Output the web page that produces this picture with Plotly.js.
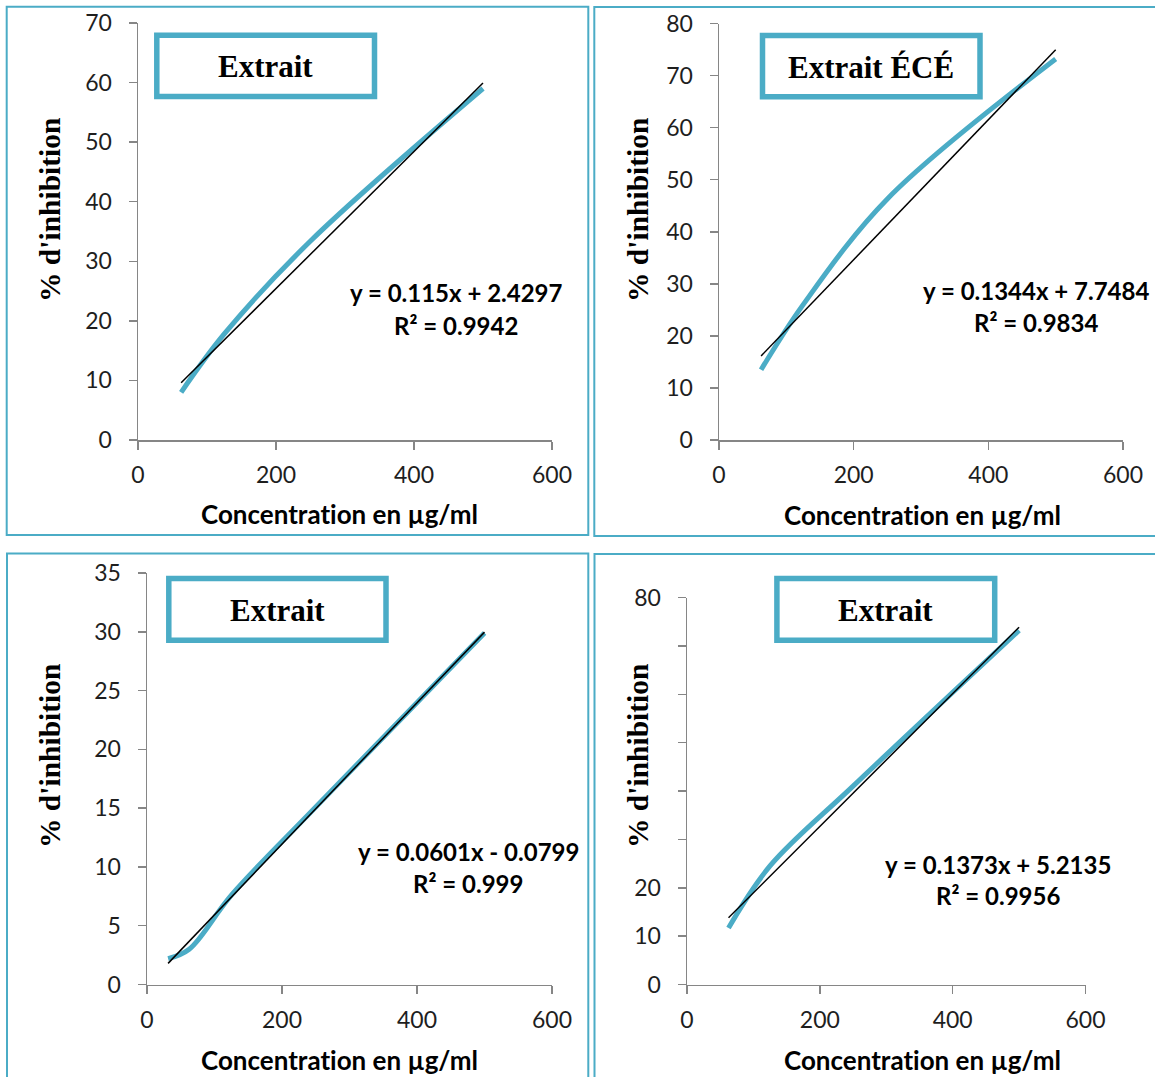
<!DOCTYPE html>
<html>
<head>
<meta charset="utf-8">
<script src="https://cdn.plot.ly/plotly-3.0.1.min.js"></script>
<style>html,body{margin:0;padding:0;background:#fff;}#chart{width:1155px;height:1077px;}
text{font-variant-ligatures:none;font-feature-settings:"liga" 0,"clig" 0;}</style>
</head>
<body>
<div id="chart"></div>
<script>
// ---- Data ----
const conc1 = [62.5, 125, 250, 500];
const inhib1 = [8.0, 17.8, 33.4, 59.0];
const conc2 = [62.5, 125, 250, 500];
const inhib2 = [13.5, 26.0, 46.3, 73.2];
const conc3 = [31.25, 62.5, 125, 250, 500];
const inhib3 = [2.2, 3.0, 7.6, 15.1, 29.9];
const conc4 = [62.5, 125, 250, 500];
const inhib4 = [11.7, 24.5, 41.0, 73.2];

const slopes = [0.115, 0.1344, 0.0601, 0.1373];
const intercepts = [2.4297, 7.7484, -0.0799, 5.2135];
const equations = ["y = 0.115x + 2.4297", "y = 0.1344x + 7.7484", "y = 0.0601x - 0.0799", "y = 0.1373x + 5.2135"];
const r2Labels = ["R² = 0.9942", "R² = 0.9834", "R² = 0.999", "R² = 0.9956"];
const boxLabels = ["Extrait", "Extrait ÉCÉ", "Extrait", "Extrait"];
const xTitle = "Concentration en µg/ml";
const yTitle = "% d'inhibition";
const xTicks = [0, 200, 400, 600];
const yTicks1 = [0, 10, 20, 30, 40, 50, 60, 70];
const yTicks2 = [0, 10, 20, 30, 40, 50, 60, 70, 80];
const yTicks3 = [0, 5, 10, 15, 20, 25, 30, 35];
const yTicks4 = [0, 10, 20, 30, 40, 50, 60, 70, 80];
const yTickText4 = ["0", "10", "20", "", "", "", "", "", "80"];

// ---- Layout helpers ----
const W = 1155, H = 1077;
const px = x => x / W;
const py = y => 1 - y / H;
const TEAL = '#4BACC6';
const AXC = '#868686';

const concs = [conc1, conc2, conc3, conc4];
const inhibs = [inhib1, inhib2, inhib3, inhib4];

const traces = [];
for (let i = 0; i < 4; i++) {
  const sfx = i === 0 ? '' : String(i + 1);
  traces.push({
    x: concs[i], y: inhibs[i], type: 'scatter', mode: 'lines',
    line: {color: TEAL, width: 5, shape: 'spline', smoothing: 1},
    xaxis: 'x' + sfx, yaxis: 'y' + sfx, hoverinfo: 'skip', showlegend: false
  });
  const xmin = Math.min(...concs[i]), xmax = Math.max(...concs[i]);
  const tx = [xmin, xmax];
  traces.push({
    x: tx, y: tx.map(v => slopes[i] * v + intercepts[i]), type: 'scatter', mode: 'lines',
    line: {color: '#000000', width: 1.5},
    xaxis: 'x' + sfx, yaxis: 'y' + sfx, hoverinfo: 'skip', showlegend: false
  });
}

const tickFont = {family: 'Lato, "Open Sans", sans-serif', size: 23, color: '#1e1e1e'};
function xax(domain, anchor) {
  return {domain: domain, anchor: anchor, range: [0, 600], tickvals: xTicks, ticktext: xTicks.map(String),
    ticks: 'outside', ticklen: 8, tickwidth: 1.5, tickcolor: AXC, showline: true, linecolor: AXC, linewidth: 1.5,
    showgrid: false, zeroline: false, tickfont: tickFont, ticklabelstandoff: 6, fixedrange: true};
}
function yax(domain, anchor, range, vals, text) {
  return {domain: domain, anchor: anchor, range: range, tickvals: vals, ticktext: text || vals.map(String),
    ticks: 'outside', ticklen: 8, tickwidth: 1.5, tickcolor: AXC, showline: true, linecolor: AXC, linewidth: 1.5,
    showgrid: false, zeroline: false, tickfont: tickFont, ticklabelstandoff: 12, fixedrange: true};
}

const layout = {
  width: W, height: H, margin: {l: 0, r: 0, t: 0, b: 0},
  paper_bgcolor: '#ffffff', plot_bgcolor: 'rgba(0,0,0,0)', showlegend: false,
  xaxis: xax([px(138), px(552)], 'y'),
  yaxis: yax([py(440), py(23)], 'x', [0, 70], yTicks1),
  xaxis2: xax([px(719), px(1123)], 'y2'),
  yaxis2: yax([py(440), py(23.5)], 'x2', [0, 80], yTicks2),
  xaxis3: xax([px(147), px(552)], 'y3'),
  yaxis3: yax([py(984.5), py(573)], 'x3', [0, 35], yTicks3),
  xaxis4: xax([px(687), px(1085.5)], 'y4'),
  yaxis4: yax([py(984.5), py(597.5)], 'x4', [0, 80], yTicks4, yTickText4),
  shapes: [],
  annotations: []
};

// panel frames
const frames = [[6.7, 6.7, 588.3, 535], [594.3, 7, 1170, 536], [7, 553.5, 588.3, 1090], [594.5, 554, 1170, 1090]];
frames.forEach(f => layout.shapes.push({type: 'rect', xref: 'paper', yref: 'paper', x0: px(f[0]), x1: px(f[2]), y0: py(f[3]), y1: py(f[1]),
  line: {color: TEAL, width: 2}, fillcolor: 'rgba(0,0,0,0)', layer: 'below'}));

// label boxes
const boxes = [[156.8, 35.3, 374.5, 96.5], [762.5, 35.5, 980, 96.8], [168.8, 578.4, 386, 640.3], [776.9, 578.4, 994.7, 640.3]];
boxes.forEach((b, i) => {
  layout.shapes.push({type: 'rect', xref: 'paper', yref: 'paper', x0: px(b[0]), x1: px(b[2]), y0: py(b[3]), y1: py(b[1]),
    line: {color: TEAL, width: 5.5}, fillcolor: '#ffffff', layer: 'above'});
  layout.annotations.push({xref: 'paper', yref: 'paper', x: px((b[0] + b[2]) / 2), y: py((b[1] + b[3]) / 2 + 1),
    text: '<b>' + boxLabels[i] + '</b>', showarrow: false, xanchor: 'center', yanchor: 'middle',
    font: {family: '"Liberation Serif", "Times New Roman", serif', size: 31, color: '#000'}});
});

// equations
const eqPos = [[456, 293, 325], [1036, 290, 322], [468, 851, 883], [998, 864, 896]];
eqPos.forEach((p, i) => {
  layout.annotations.push({xref: 'paper', yref: 'paper', x: px(p[0]), y: py(p[1]), text: '<b>' + equations[i] + '</b>',
    showarrow: false, xanchor: 'center', yanchor: 'middle', font: {family: 'Lato, sans-serif', size: 24, color: '#000'}});
  layout.annotations.push({xref: 'paper', yref: 'paper', x: px(p[0]), y: py(p[2]), text: '<b>' + r2Labels[i] + '</b>',
    showarrow: false, xanchor: 'center', yanchor: 'middle', font: {family: 'Lato, sans-serif', size: 24, color: '#000'}});
});

// axis titles
const xtPos = [[339, 514], [922, 515], [339, 1060], [922, 1060]];
const ytPos = [[50, 210], [638, 210], [50, 756], [638, 756]];
for (let i = 0; i < 4; i++) {
  layout.annotations.push({xref: 'paper', yref: 'paper', x: px(xtPos[i][0]), y: py(xtPos[i][1]), text: '<b>' + xTitle + '</b>',
    showarrow: false, xanchor: 'center', yanchor: 'middle', font: {family: 'Lato, sans-serif', size: 26, color: '#000'}});
  layout.annotations.push({xref: 'paper', yref: 'paper', x: px(ytPos[i][0]), y: py(ytPos[i][1]), text: '<b>' + yTitle + '</b>',
    textangle: -90, showarrow: false, xanchor: 'center', yanchor: 'middle',
    font: {family: '"Liberation Serif", "Times New Roman", serif', size: 29.5, color: '#000'}});
}

Plotly.newPlot('chart', traces, layout, {staticPlot: true, displayModeBar: false});
</script>
</body>
</html>
